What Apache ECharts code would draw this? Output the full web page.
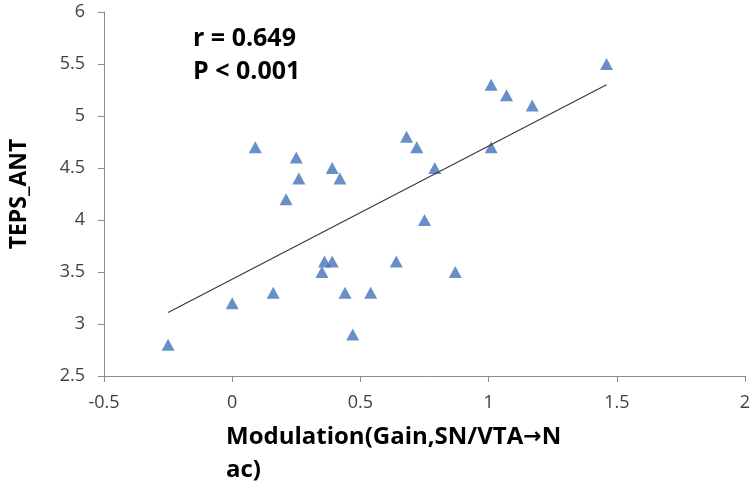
<!DOCTYPE html>
<html>
<head>
<meta charset="utf-8">
<script src="https://cdn.jsdelivr.net/npm/echarts@6/dist/echarts.min.js"></script>
<style>html,body{margin:0;padding:0;background:#fff}#c{width:754px;height:497px}</style>
</head>
<body>
<div id="c"></div>
<script>
const xValues = [0.09, 0.25, 0.26, 0.39, 0.42, 0.68, 0.72, 0.21, -0.25, 0.00, 0.16, 0.36, 0.39, 0.35, 0.44, 0.54, 0.47, 0.64, 0.75, 0.87, 1.46, 1.01, 1.07, 1.17, 0.79, 1.01];
const yValues = [4.7, 4.6, 4.4, 4.5, 4.4, 4.8, 4.7, 4.2, 2.8, 3.2, 3.3, 3.6, 3.6, 3.5, 3.3, 3.3, 2.9, 3.6, 4.0, 3.5, 5.5, 5.3, 5.2, 5.1, 4.5, 4.7];
const trendX = [-0.25, 1.46];
const trendY = [3.11, 5.30];
const xTicks = { min: -0.5, max: 2, interval: 0.5 };
const yTicks = { min: 2.5, max: 6, interval: 0.5 };
const statLines = ['r = 0.649', 'P < 0.001'];
const xNameParts = ['Modulation(Gain,SN/VTA', '\u2192', 'N\nac)'];
const yName = 'TEPS_ANT';

const font = '"Open Sans", "Noto Sans", sans-serif';
const chart = echarts.init(document.getElementById('c'));
chart.setOption({
  animation: false,
  grid: { left: 101, right: 9, top: 12, bottom: 121 },
  xAxis: {
    type: 'value', min: xTicks.min, max: xTicks.max, interval: xTicks.interval,
    axisLine: { show: true, onZero: false, lineStyle: { color: '#8c8c8c', width: 1 } },
    axisTick: { show: true, length: 6, lineStyle: { color: '#8c8c8c' } },
    splitLine: { show: false },
    axisLabel: { color: '#404040', fontSize: 18, fontFamily: font, margin: 18 }
  },
  yAxis: {
    type: 'value', min: yTicks.min, max: yTicks.max, interval: yTicks.interval,
    name: yName, nameLocation: 'middle', nameGap: 73,
    nameTextStyle: { fontSize: 23, fontWeight: 'bold', color: '#000', fontFamily: font },
    axisLine: { show: true, onZero: false, lineStyle: { color: '#8c8c8c', width: 1 } },
    axisTick: { show: true, length: 6, lineStyle: { color: '#8c8c8c' } },
    splitLine: { show: false },
    axisLabel: { color: '#404040', fontSize: 18, fontFamily: font, margin: 19 }
  },
  graphic: [
    { type: 'text', left: 193, top: 22, style: { text: statLines.join('\n'), font: 'bold 25px ' + font, fill: '#000', lineHeight: 33 } },
    { type: 'text', left: 226, top: 421, style: {
        text: xNameParts[0] + '{a|' + xNameParts[1] + '}' + xNameParts[2],
        font: 'bold 24px ' + font, fill: '#000', lineHeight: 33, align: 'left',
        rich: { a: { fontFamily: '"DejaVu Sans", sans-serif', fontWeight: 'bold', fontSize: 22, fill: '#000', lineHeight: 33 } }
      } }
  ],
  series: [
    {
      type: 'scatter', symbol: 'triangle', symbolSize: [13, 12],
      itemStyle: { color: '#4473ba' },
      data: xValues.map((x, i) => [x, yValues[i]])
    },
    {
      type: 'line', symbol: 'none', silent: true,
      lineStyle: { color: '#3a3a3a', width: 1.2 },
      data: trendX.map((x, i) => [x, trendY[i]])
    }
  ]
});
</script>
</body>
</html>
